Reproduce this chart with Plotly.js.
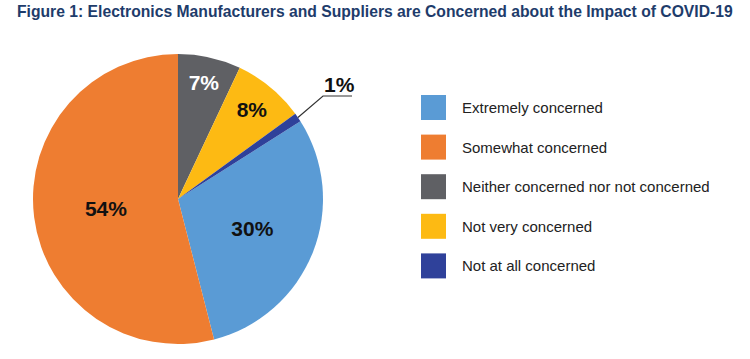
<!DOCTYPE html>
<html>
<head>
<meta charset="utf-8">
<script src="https://cdn.plot.ly/plotly-3.0.1.min.js"></script>
<style>html,body{margin:0;padding:0;background:#fff;}#chart{width:750px;height:359px;}</style>
</head>
<body>
<div id="chart"></div>
<script>
// Data
var categories = ["Extremely concerned", "Somewhat concerned", "Neither concerned nor not concerned", "Not very concerned", "Not at all concerned"];
var shares = [30, 54, 7, 8, 1];
var sliceColors = ["#5a9bd5", "#ee7d31", "#5f6064", "#fdba13", "#2f419a"];
var labelColors = ["#111111", "#111111", "#ffffff", "#111111", "#111111"];
var chartTitle = "Figure 1: Electronics Manufacturers and Suppliers are Concerned about the Impact of COVID-19";

var W = 750, H = 359;
var cx = 178, cy = 199, R = 145;            // pie center / radius in px
// start angle (clockwise from 12 o'clock) of the first slice so that slice 3 begins at the top
var total = shares.reduce(function(a, b){ return a + b; }, 0);
var before = shares[2] + shares[3] + shares[4];
var rotation = before / total * 360;

var labelFont = {family: "Liberation Sans, Arial, sans-serif", size: 21, weight: 700};

var texts = shares.map(function(v){ return v >= 5 ? v + "%" : ""; });

var trace = {
  type: "pie",
  labels: categories,
  values: shares,
  sort: false,
  direction: "clockwise",
  rotation: rotation,
  marker: {colors: sliceColors, line: {width: 0}},
  text: texts,
  textinfo: "text",
  textposition: "inside",
  insidetextorientation: "horizontal",
  insidetextfont: {family: labelFont.family, size: labelFont.size, weight: 700, color: labelColors},
  hoverinfo: "label+percent",
  showlegend: false,
  domain: {x: [(cx - R) / W, (cx + R) / W], y: [(H - cy - R) / H, (H - cy + R) / H]}
};

// Leader line for the small slice (last one), computed from its mid-angle
var smallIdx = 4;
var cum = 0;
for (var i = 0; i < smallIdx; i++) cum += shares[i];
var midDeg = rotation + (cum + shares[smallIdx] / 2) / total * 360;
var midRad = midDeg * Math.PI / 180;
var sx = cx + R * Math.sin(midRad), sy = cy - R * Math.cos(midRad);
var kneeX = 323, kneeY = 96, endX = 352;
function px(x){ return x / W; }
function py(y){ return 1 - y / H; }

var shapes = [{
  type: "path", xref: "paper", yref: "paper",
  path: "M" + px(sx) + "," + py(sy) + " L" + px(kneeX) + "," + py(kneeY) + " L" + px(endX) + "," + py(kneeY),
  line: {color: "#333333", width: 1.2}
}];
var annotations = [{
  xref: "paper", yref: "paper", x: px(339), y: py(85), xanchor: "center", yanchor: "middle",
  text: shares[smallIdx] + "%", showarrow: false,
  font: {family: labelFont.family, size: labelFont.size, weight: 700, color: labelColors[smallIdx]}
}];

// Legend (large swatches)
var legX = 421, legY0 = 95, legStep = 39.6, sw = 25;
categories.forEach(function(c, i){
  var top = legY0 + i * legStep;
  shapes.push({type: "rect", xref: "paper", yref: "paper",
    x0: px(legX), x1: px(legX + sw), y0: py(top + sw), y1: py(top),
    fillcolor: sliceColors[i], line: {width: 0}});
  annotations.push({xref: "paper", yref: "paper", x: px(460), y: py(top + sw / 2),
    xanchor: "left", yanchor: "middle", text: c, showarrow: false,
    font: {family: "Liberation Sans, Arial, sans-serif", size: 15, color: "#222222"}});
});

var layout = {
  width: W, height: H,
  margin: {l: 0, r: 0, t: 0, b: 0},
  paper_bgcolor: "#ffffff",
  title: {text: "<b>" + chartTitle + "</b>", x: 17 / W, xanchor: "left", xref: "paper",
          y: 1 - 12 / H, yref: "container", yanchor: "middle",
          font: {family: "Liberation Sans, Arial, sans-serif", size: 15.7, color: "#1e3c6b"}},
  shapes: shapes,
  annotations: annotations,
  showlegend: false
};

Plotly.newPlot("chart", [trace], layout, {displayModeBar: false, staticPlot: true});
</script>
</body>
</html>
